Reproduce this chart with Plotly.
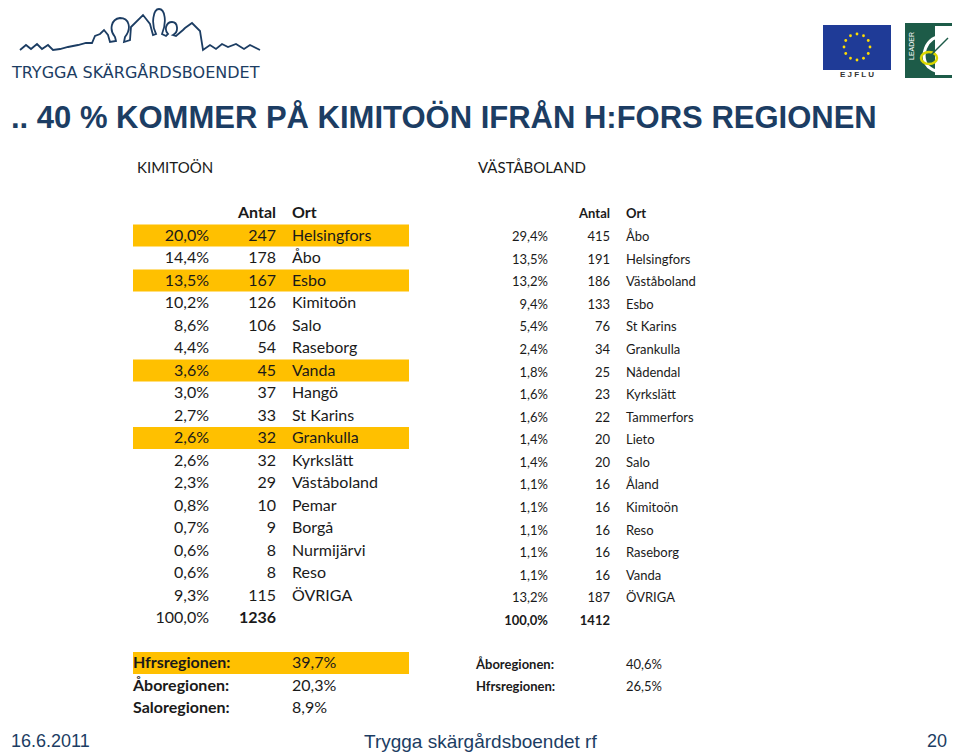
import math
import plotly.graph_objects as go

# ---- data ----
kim_pct = ["20,0%", "14,4%", "13,5%", "10,2%", "8,6%", "4,4%", "3,6%", "3,0%", "2,7%",
           "2,6%", "2,6%", "2,3%", "0,8%", "0,7%", "0,6%", "0,6%", "9,3%"]
kim_antal = [247, 178, 167, 126, 106, 54, 45, 37, 33, 32, 32, 29, 10, 9, 8, 8, 115]
kim_ort = ["Helsingfors", "Åbo", "Esbo", "Kimitoön", "Salo", "Raseborg", "Vanda", "Hangö",
           "St Karins", "Grankulla", "Kyrkslätt", "Väståboland", "Pemar", "Borgå",
           "Nurmijärvi", "Reso", "ÖVRIGA"]
kim_highlight = ["Helsingfors", "Esbo", "Vanda", "Grankulla"]
kim_total_pct, kim_total = "100,0%", 1236

vb_pct = ["29,4%", "13,5%", "13,2%", "9,4%", "5,4%", "2,4%", "1,8%", "1,6%", "1,6%",
          "1,4%", "1,4%", "1,1%", "1,1%", "1,1%", "1,1%", "1,1%", "13,2%"]
vb_antal = [415, 191, 186, 133, 76, 34, 25, 23, 22, 20, 20, 16, 16, 16, 16, 16, 187]
vb_ort = ["Åbo", "Helsingfors", "Väståboland", "Esbo", "St Karins", "Grankulla", "Nådendal",
          "Kyrkslätt", "Tammerfors", "Lieto", "Salo", "Åland", "Kimitoön", "Reso",
          "Raseborg", "Vanda", "ÖVRIGA"]
vb_total_pct, vb_total = "100,0%", 1412

kim_regions = ["Hfrsregionen:", "Åboregionen:", "Saloregionen:"]
kim_region_pct = ["39,7%", "20,3%", "8,9%"]
vb_regions = ["Åboregionen:", "Hfrsregionen:"]
vb_region_pct = ["40,6%", "26,5%"]

TITLE = ".. 40 % KOMMER PÅ KIMITOÖN IFRÅN H:FORS REGIONEN"
NAVY = "#1c3d63"
TXT = "#1a1a1a"
YEL = "#FFC000"
FONT = "Lato, Open Sans, sans-serif"
ARIAL = "Liberation Sans, Arial, sans-serif"

fig = go.Figure()

# --- left table ---
k_y0, k_dy = 236.5, 22.5
k_rows = [k_y0 + i * k_dy for i in range(len(kim_ort))]
shapes = []
for i, o in enumerate(kim_ort):
    if o in kim_highlight:
        shapes.append(dict(type="rect", xref="x", yref="y", x0=133, x1=409,
                           y0=k_rows[i] - 12, y1=k_rows[i] + 10,
                           fillcolor=YEL, line_width=0, layer="below"))
k_total_y = k_y0 + len(kim_ort) * k_dy
kf = dict(family=FONT, size=16, color=TXT)
kfb = dict(family=FONT, size=16, color=TXT, weight="bold")
fig.add_trace(go.Scatter(x=[209] * len(kim_pct), y=k_rows, text=kim_pct, mode="text",
                         textposition="middle left", textfont=kf))
fig.add_trace(go.Scatter(x=[276] * len(kim_antal), y=k_rows, text=[str(v) for v in kim_antal],
                         mode="text", textposition="middle left", textfont=kf))
fig.add_trace(go.Scatter(x=[292] * len(kim_ort), y=k_rows, text=kim_ort, mode="text",
                         textposition="middle right", textfont=kf))
fig.add_trace(go.Scatter(x=[209], y=[k_total_y], text=[kim_total_pct], mode="text",
                         textposition="middle left", textfont=kf))
fig.add_trace(go.Scatter(x=[276], y=[k_total_y], text=[str(kim_total)], mode="text",
                         textposition="middle left", textfont=kfb))
fig.add_trace(go.Scatter(x=[276], y=[213.5], text=["Antal"], mode="text",
                         textposition="middle left", textfont=kfb))
fig.add_trace(go.Scatter(x=[292], y=[213.5], text=["Ort"], mode="text",
                         textposition="middle right", textfont=kfb))

# --- right table ---
v_y0, v_dy = 238, 22.56
v_rows = [v_y0 + i * v_dy for i in range(len(vb_ort))]
v_total_y = v_y0 + len(vb_ort) * v_dy
vf = dict(family=FONT, size=13, color=TXT)
vfb = dict(family=FONT, size=13, color=TXT, weight="bold")
fig.add_trace(go.Scatter(x=[548] * len(vb_pct), y=v_rows, text=vb_pct, mode="text",
                         textposition="middle left", textfont=vf))
fig.add_trace(go.Scatter(x=[610] * len(vb_antal), y=v_rows, text=[str(v) for v in vb_antal],
                         mode="text", textposition="middle left", textfont=vf))
fig.add_trace(go.Scatter(x=[626] * len(vb_ort), y=v_rows, text=vb_ort, mode="text",
                         textposition="middle right", textfont=vf))
fig.add_trace(go.Scatter(x=[548, 610], y=[v_total_y] * 2, text=[vb_total_pct, str(vb_total)],
                         mode="text", textposition="middle left", textfont=vfb))
fig.add_trace(go.Scatter(x=[610], y=[215], text=["Antal"], mode="text",
                         textposition="middle left", textfont=vfb))
fig.add_trace(go.Scatter(x=[626], y=[215], text=["Ort"], mode="text",
                         textposition="middle right", textfont=vfb))

# --- region summaries ---
r_rows = [664 + i * 22.5 for i in range(len(kim_regions))]
shapes.append(dict(type="rect", xref="x", yref="y", x0=133, x1=409, y0=r_rows[0] - 12,
                   y1=r_rows[0] + 10, fillcolor=YEL, line_width=0, layer="below"))
fig.add_trace(go.Scatter(x=[133] * 3, y=r_rows, text=kim_regions, mode="text",
                         textposition="middle right", textfont=kfb))
fig.add_trace(go.Scatter(x=[292] * 3, y=r_rows, text=kim_region_pct, mode="text",
                         textposition="middle right", textfont=kf))
vr_rows = [665.5 + i * 22.5 for i in range(len(vb_regions))]
fig.add_trace(go.Scatter(x=[476] * 2, y=vr_rows, text=vb_regions, mode="text",
                         textposition="middle right", textfont=vfb))
fig.add_trace(go.Scatter(x=[626] * 2, y=vr_rows, text=vb_region_pct, mode="text",
                         textposition="middle right", textfont=vf))

annotations = [
    dict(x=9, y=117, text=TITLE, showarrow=False, xanchor="left", yanchor="middle",
         font=dict(family=ARIAL, size=31, color=NAVY, weight="bold")),
    dict(x=135, y=167, text="KIMITOÖN", showarrow=False, xanchor="left", yanchor="middle",
         font=dict(family=FONT, size=15, color=TXT)),
    dict(x=476, y=167, text="VÄSTÅBOLAND", showarrow=False, xanchor="left", yanchor="middle",
         font=dict(family=FONT, size=15, color=TXT)),
    dict(x=9, y=741, text="16.6.2011", showarrow=False, xanchor="left",
         yanchor="middle", font=dict(family=ARIAL, size=18, color=NAVY)),
    dict(x=480, y=741, text="Trygga skärgårdsboendet rf", showarrow=False, xanchor="center",
         yanchor="middle", font=dict(family=ARIAL, size=19, color=NAVY)),
    dict(x=949, y=741, text="20", showarrow=False, xanchor="right", yanchor="middle",
         font=dict(family=ARIAL, size=18, color=NAVY)),
    dict(x=9, y=72, text="TRYGGA SKÄRGÅRDSBOENDET", showarrow=False, xanchor="left",
         yanchor="middle", font=dict(family="DejaVu Sans, sans-serif", size=16, color=NAVY)),
    dict(x=857, y=74, text="E J F L U", showarrow=False, xanchor="center", yanchor="middle",
         font=dict(family=ARIAL, size=8, color="#333", weight="bold")),
    dict(x=911, y=46, text="LEADER", showarrow=False, xanchor="center", yanchor="middle",
         textangle=-90, font=dict(family=ARIAL, size=7, color="white")),
]

# --- logo decorations ---
skyline = ("M 20 50 L 26 45 L 31 49 L 37 44 L 42 49 L 48 45 L 53 50 L 60 49 L 68 47 L 78 45 "
           "L 86 43 L 92 43 L 95 36 L 100 34 L 104 30 L 108 35 L 110 42 L 116 41 L 115 37 "
           "C 109 30 111 19 120 18 C 129 18 132 28 125 37 L 124 42 L 130 40 L 131 27 L 143 15 "
           "L 150 24 L 153 35 L 156 34 C 151 24 153 9 159 9 C 165 9 167 22 162 34 L 166 36 "
           "L 168 34 C 164 30 166 22 172 22 C 178 22 179 32 173 35 L 176 36 L 183 30 L 185 28 "
           "L 192 23 L 200 31 L 203 50 L 210 45 L 216 49 L 222 44 L 228 47 L 236 44 L 244 49 "
           "L 250 45 L 260 50")
shapes.append(dict(type="path", xref="x", yref="y", path=skyline,
                   line=dict(color=NAVY, width=1.8)))
shapes.append(dict(type="rect", xref="x", yref="y", x0=823, x1=891, y0=25, y1=70,
                   fillcolor="#1f3b97", line_width=0))
for k in range(12):
    a = 2 * math.pi * k / 12
    cx, cy = 857 + 13 * math.cos(a), 47 + 13 * math.sin(a)
    shapes.append(dict(type="circle", xref="x", yref="y", x0=cx - 1.4, x1=cx + 1.4,
                       y0=cy - 1.4, y1=cy + 1.4, fillcolor="#ffdd00", line_width=0))
shapes.append(dict(type="rect", xref="x", yref="y", x0=905, x1=958, y0=23, y1=78,
                   fillcolor="#1d5b48", line_width=0))
shapes.append(dict(type="rect", xref="x", yref="y", x0=935, x1=955, y0=26, y1=75,
                   fillcolor="white", line_width=0))
shapes.append(dict(type="path", xref="x", yref="y",
                   path="M 945 36 C 925 34 918 60 930 68 C 938 74 950 72 952 66",
                   line=dict(color="white", width=3)))
shapes.append(dict(type="circle", xref="x", yref="y", x0=921, x1=937, y0=52, y1=64,
                   line=dict(color="#d9d700", width=2.5)))
shapes.append(dict(type="path", xref="x", yref="y", path="M 930 56 L 948 38",
                   line=dict(color="#1d5b48", width=1.5)))

# page body has an 8px margin: size/range so axis units equal page pixels
fig.update_layout(
    width=952, height=748, margin=dict(l=0, r=0, t=0, b=0),
    paper_bgcolor="white", plot_bgcolor="white", showlegend=False,
    xaxis=dict(range=[8, 960], visible=False, fixedrange=True),
    yaxis=dict(range=[756, 8], visible=False, fixedrange=True),
    shapes=shapes, annotations=annotations,
)
fig.write_html("out.html")
